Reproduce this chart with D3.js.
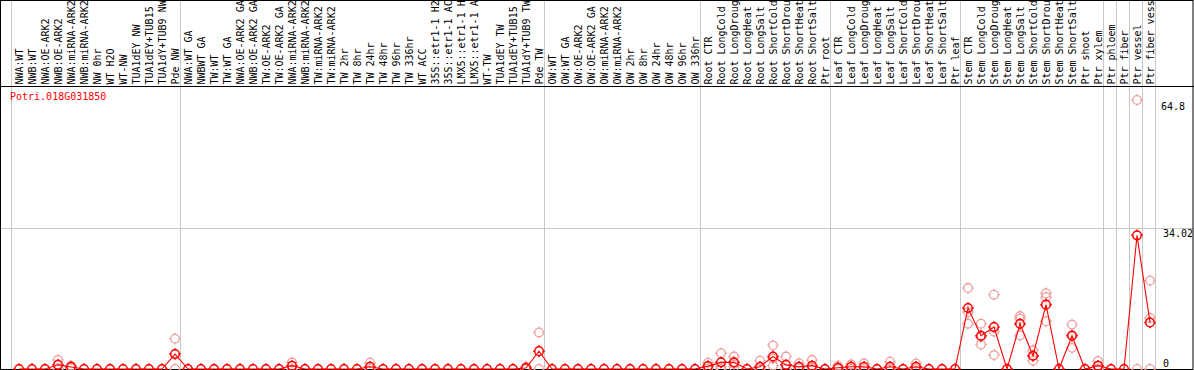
<!DOCTYPE html>
<html>
<head>
<meta charset="utf-8">
<script src="https://cdn.jsdelivr.net/npm/d3@7"></script>
<style>
  html, body { margin: 0; padding: 0; background: #fff; }
  svg { display: block; }
  text { font-family: "DejaVu Sans Mono", monospace; font-size: 10px; }
</style>
</head>
<body>
<svg id="chart" width="1194" height="370"></svg>
<script>
// ---------- data ----------
const geneName = "Potri.018G031850";

// column labels as far as the reference shows them (cut at 14 characters)
const categories = [
  "NWA:WT","NWB:WT","NWA:OE-ARK2","NWB:OE-ARK2","NWA:miRNA-ARK2","NWB:miRNA-ARK2","NW 0hr","WT H2O","WT-NW","TUA1dEY NW","TUA1dEY+TUB15","TUA1dY+TUB9 NW","Pde NW",
  "NWA:WT GA","NWBWT GA","TW:WT","TW:WT GA","NWA:OE-ARK2 GA","NWB:OE-ARK2 GA","TW:OE-ARK2","TW:OE-ARK2 GA","NWA:miRNA-ARK2","NWB:miRNA-ARK2","TW:miRNA-ARK2","TW:miRNA-ARK2",
  "TW 2hr","TW 8hr","TW 24hr","TW 48hr","TW 96hr","TW 336hr","WT ACC","35S::etr1-1 H2","35S::etr1-1 AC","LMX5::etr1-1 H","LMX5::etr1-1 A","WT-TW","TUA1dEY TW","TUA1dEY+TUB15","TUA1dY+TUB9 TW","Pde TW",
  "OW:WT","OW:WT GA","OW:OE-ARK2","OW:OE-ARK2 GA","OW:miRNA-ARK2","OW:miRNA-ARK2","OW 2hr","OW 8hr","OW 24hr","OW 48hr","OW 96hr","OW 336hr",
  "Root CTR","Root LongCold","Root LongDroug","Root LongHeat","Root LongSalt","Root ShortCold","Root ShortDrou","Root ShortHeat","Root ShortSalt","Ptr root",
  "Leaf CTR","Leaf LongCold","Leaf LongDroug","Leaf LongHeat","Leaf LongSalt","Leaf ShortCold","Leaf ShortDrou","Leaf ShortHeat","Leaf ShortSalt","Ptr leaf",
  "Stem CTR","Stem LongCold","Stem LongDroug","Stem LongHeat","Stem LongSalt","Stem ShortCold","Stem ShortDrou","Stem ShortHeat","Stem ShortSalt","Ptr shoot","Ptr xylem",
  "Ptr phloem","Ptr fiber","Ptr vessel","Ptr fiber vess"
];

// number of columns in each separated group
const groupSizes = [13, 28, 12, 10, 10, 11, 1, 1, 1, 1];

// mean expression per column
const meanValues = [
  0, 0, 0, 1.0, 0.5, 0, 0, 0, 0, 0, 0, 0, 3.6,
  0, 0, 0, 0, 0, 0, 0, 0, 0.8, 0, 0, 0, 0, 0, 0.55, 0, 0, 0, 0, 0, 0, 0, 0, 0, 0, 0, 0.25, 4.3,
  0, 0, 0, 0, 0, 0, 0, 0, 0, 0, 0, 0,
  0.7, 1.6, 1.6, 0, 0.55, 3.0, 1.0, 0.55, 0.8, 0,
  0.3, 0.55, 0.55, 0, 0.55, 0, 0.55, 0, 0, 0,
  14.7, 8.0, 10.1, 0, 10.9, 3.2, 15.5, 0, 8.0, 0, 0.8,
  0, 0, 32.2, 11.2
];

// individual replicates: column index and value
const repColumns = [
  3, 3, 4, 4, 12, 12, 21, 21, 27, 27, 39, 39, 40, 40,
  53, 53, 54, 54, 54, 55, 55, 55, 57, 57, 58, 58, 58, 59, 59, 60, 60, 61, 61,
  63, 63, 64, 64, 65, 65, 67, 67, 69, 69,
  73, 73, 73, 74, 74, 74, 75, 75, 75, 77, 77, 77, 78, 78, 78, 79, 79, 79, 81, 81, 81, 83, 83,
  86, 86, 87, 87, 87
];
const repValues = [
  2.2, 0, 0.8, 0.2, 7.3, 0, 1.6, 0, 1.5, 0, 0.55, 0, 8.8, 0,
  1.5, 0.2, 3.8, 0.5, 0, 3.0, 0.5, 1.2, 2.0, 0, 5.7, 0.8, 2.5, 3.0, 0, 1.4, 0.2, 2.15, 0.3,
  0.8, 0, 1.1, 0, 1.35, 0, 1.75, 0, 1.35, 0,
  19.5, 10.9, 13.7, 10.9, 5.9, 7.7, 17.9, 3.35, 9.0, 12.75, 12.1, 8.1, 4.5, 2.0, 3.1, 18.25, 17.3, 11.5, 10.7, 5.1, 8.2, 1.9, 0,
  64.8, 0, 21.3, 12.3, 0
];

const tickValues = [64.8, 34.02, 0];
const tickLabels = ["64.8", "34.02", "0"];
const gridValues = [34.02];

// ---------- drawing ----------
const W = 1194, H = 370;
const svg = d3.select("#chart");

const x = d3.scaleBand()
  .domain(d3.range(categories.length))
  .range([12.5, 12.5 + 13 * categories.length])
  .paddingInner(0).paddingOuter(0);
const cx = i => x(i) + x.bandwidth() / 2;

const y = d3.scaleLinear().domain([0, 64.8]).range([369, 100]);

const gray = "#c8c8c8";

// horizontal grid line
svg.selectAll("line.hgrid").data(gridValues).join("line")
  .attr("class", "hgrid")
  .attr("x1", 0).attr("x2", W)
  .attr("y1", d => Math.round(y(d)) + 0.5).attr("y2", d => Math.round(y(d)) + 0.5)
  .attr("stroke", gray).attr("stroke-width", 1);

// vertical group separators
const boundaries = [0];
groupSizes.reduce((acc, s) => { boundaries.push(acc + s); return acc + s; }, 0);
svg.selectAll("line.vgrid").data(boundaries).join("line")
  .attr("class", "vgrid")
  .attr("x1", d => Math.round(x(0) + 13 * d - 1.5) + 0.5)
  .attr("x2", d => Math.round(x(0) + 13 * d - 1.5) + 0.5)
  .attr("y1", 0).attr("y2", 369)
  .attr("stroke", gray).attr("stroke-width", 1);

// frame
svg.append("rect").attr("x", 0.5).attr("y", 0.5).attr("width", W - 1.5).attr("height", 369)
  .attr("fill", "none").attr("stroke", "#000").attr("stroke-width", 1);
svg.append("line").attr("x1", 0).attr("x2", W).attr("y1", 86.5).attr("y2", 86.5)
  .attr("stroke", "#000").attr("stroke-width", 1);

// column labels (vertical)
svg.append("g").selectAll("text").data(categories).join("text")
  .attr("transform", (d, i) => `translate(${cx(i)},84.6) rotate(-90)`)
  .attr("dy", "0.35em")
  .attr("text-anchor", "start")
  .attr("fill", "#000")
  .text(d => d);

// gene name
svg.append("text").attr("x", 10).attr("y", 100).attr("fill", "#ff0000").text(geneName);

// right-side value labels
svg.append("g").selectAll("text").data(tickValues).join("text")
  .attr("x", (d, i) => i === 0 ? 1161 : 1163)
  .attr("y", d => d === 0 ? y(d) - 2.5 : y(d) + 9.5)
  .attr("fill", "#000")
  .text((d, i) => tickLabels[i]);

// marker shape: circle with four small ticks
function marker(sel, r) {
  sel.append("circle").attr("r", r).attr("fill", "none");
  sel.append("path").attr("d",
    `M0,${-r - 1.5}V${-r + 0.5}M0,${r - 0.5}V${r + 1.5}M${-r - 1.5},0H${-r + 0.5}M${r - 0.5},0H${r + 1.5}`)
    .attr("fill", "none");
}

const plot = svg.append("g");

// replicates
const reps = repColumns.map((c, i) => ({ c, v: repValues[i] }));
plot.append("g").attr("stroke", "#f0a0a0").attr("stroke-width", 1.3)
  .selectAll("g").data(reps).join("g")
  .attr("transform", d => `translate(${cx(d.c)},${y(d.v)})`)
  .each(function () { marker(d3.select(this), 4.3); });

// mean line
const line = d3.line().x((d, i) => cx(i)).y(d => y(d));
plot.append("path").datum(meanValues)
  .attr("d", line).attr("fill", "none").attr("stroke", "#ff0000").attr("stroke-width", 1.1);

// mean markers
plot.append("g").attr("stroke", "#ff0000").attr("stroke-width", 1.5)
  .selectAll("g").data(meanValues).join("g")
  .attr("transform", (d, i) => `translate(${cx(i)},${y(d)})`)
  .each(function () { marker(d3.select(this), 4.3); });
</script>
</body>
</html>
